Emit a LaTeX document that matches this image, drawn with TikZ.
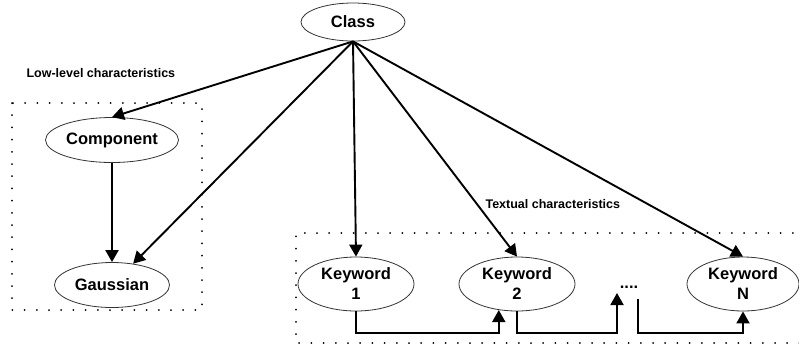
\documentclass[tikz,border=0pt]{standalone}
\usepackage{fontspec}
\setmainfont{Liberation Sans}
\usetikzlibrary{shapes.geometric, positioning, arrows.meta}

\begin{document}
\begin{tikzpicture}[x=1pt, y=-1pt]
  \tikzset{
    var/.style={
      draw=black!80,
      line width=0.8pt,
      ellipse,
      inner sep=0pt,
      minimum width=116pt,
      minimum height=54pt,
      align=center,
      font=\fontsize{16.5}{20}\selectfont\bfseries
    },
    caption/.style={
      anchor=west,
      font=\fontsize{12.5}{14}\selectfont\bfseries
    },
    link/.style={
      line width=1.9pt,
      -{Triangle[length=12pt, width=13pt]}
    },
    plate/.style={
      line width=2pt,
      line cap=round,
      dash pattern=on 0pt off 12.2pt
    }
  }
  \useasboundingbox (0,0) rectangle (799,349);

  % Draw the plates
  \draw[plate] (12,103) rectangle (202,310);
  \draw[plate] (805,233) -- (296,233) -- (296,343) -- (805,343);
  \node[caption] (lowcap) at (23,73) {Low-level characteristics};
  \node[caption] (textcap) at (482,204) {Textual characteristics};

  % Class node
  \node[var, minimum width=104pt, minimum height=38pt] (cls) at (353,22) {Class};

  % Low-level characteristics
  \node[var, minimum width=133pt, minimum height=45pt] (comp) at (112,140) {Component};
  \node[var, minimum width=115pt, minimum height=45pt] (gauss) at (112,285) {Gaussian};

  % Keywords
  \node[var] (kw1) at (356,284) {Keyword\\1};
  \node[var] (kw2) at (517,284) {Keyword\\2};
  \node[var, minimum width=112pt] (kwn) at (743,284) {Keyword\\N};
  \node[anchor=base, inner sep=0pt, font=\fontsize{16.5}{20}\selectfont\bfseries] (gap) at (629,288) {....};
  \coordinate (gapin) at (617,293);
  \coordinate (gapout) at (638,299);
  \coordinate (low) at (0,333);

  % Edges from the class
  \draw[link] (cls.south) -- (comp.north);
  \draw[link] (cls.south) -- (gauss);
  \draw[link] (cls.south) -- (kw1.north);
  \draw[link] (cls.south) -- (kw2.north);
  \draw[link] (cls.south) -- (kwn.north);
  \draw[link] (comp) -- (gauss);

  % Chain of keywords
  \draw[link] (kw1.south) -- (kw1.south |- low) -| (kw2.235);
  \draw[link] (kw2.south) -- (kw2.south |- low) -| (gapin);
  \draw[link] (gapout) -- (gapout |- low) -| (kwn.south);
\end{tikzpicture}
\end{document}
